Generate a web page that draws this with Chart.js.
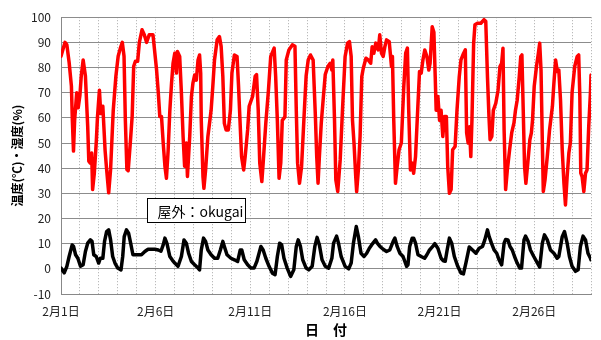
<!DOCTYPE html>
<html>
<head>
<meta charset="utf-8">
<script src="https://cdn.jsdelivr.net/npm/chart.js@4/dist/chart.umd.min.js"></script>
<style>
  html, body { margin: 0; padding: 0; background: #fff; }
  #wrap { width: 601px; height: 340px; }
</style>
</head>
<body>
<div id="wrap"><canvas id="chartOkugai"></canvas></div>
<script>
// 屋外 温湿度 (2月) — days since 2月1日 0時

// 湿度 (%)
const humDay = [0.00,0.21,0.31,0.43,0.55,0.60,0.66,0.72,0.83,0.91,1.00,1.07,1.17,1.29,1.41,1.47,1.55,1.62,1.67,1.76,1.86,1.93,2.03,2.10,2.21,2.33,2.41,2.52,2.62,2.76,2.90,3.02,3.14,3.24,3.33,3.40,3.48,3.55,3.66,3.76,3.84,3.93,4.05,4.14,4.28,4.40,4.52,4.66,4.86,5.05,5.14,5.22,5.31,5.40,5.49,5.57,5.66,5.75,5.84,5.92,6.01,6.10,6.15,6.27,6.36,6.45,6.53,6.62,6.68,6.80,6.89,6.97,7.06,7.15,7.24,7.32,7.38,7.41,7.50,7.55,7.64,7.76,7.93,8.02,8.11,8.25,8.37,8.46,8.55,8.63,8.72,8.84,8.95,9.03,9.16,9.30,9.38,9.47,9.54,9.65,9.73,9.86,9.94,10.12,10.26,10.33,10.42,10.50,10.61,10.68,10.82,10.96,11.08,11.26,11.34,11.43,11.52,11.61,11.69,11.83,11.90,12.04,12.22,12.36,12.43,12.50,12.60,12.71,12.83,12.95,13.06,13.18,13.32,13.44,13.51,13.58,13.65,13.75,13.88,13.96,14.10,14.22,14.31,14.36,14.45,14.52,14.62,14.75,14.87,15.01,15.14,15.24,15.33,15.40,15.48,15.57,15.62,15.71,15.80,15.89,15.97,16.11,16.23,16.36,16.44,16.53,16.63,16.76,16.84,16.93,17.02,17.11,17.20,17.34,17.46,17.51,17.58,17.67,17.76,17.86,17.98,18.11,18.21,18.30,18.37,18.46,18.56,18.63,18.73,18.86,18.94,19.03,19.12,19.22,19.33,19.43,19.50,19.61,19.70,19.77,19.82,19.91,20.00,20.08,20.17,20.26,20.36,20.43,20.52,20.61,20.69,20.82,20.92,21.04,21.13,21.27,21.36,21.43,21.51,21.58,21.65,21.71,21.80,21.87,22.00,22.18,22.35,22.44,22.53,22.61,22.67,22.76,22.84,22.97,23.09,23.19,23.28,23.35,23.41,23.49,23.58,23.70,23.81,23.93,24.01,24.10,24.21,24.29,24.35,24.42,24.49,24.56,24.66,24.77,24.85,24.91,25.00,25.12,25.22,25.29,25.36,25.43,25.48,25.57,25.69,25.81,25.96,26.04,26.13,26.22,26.30,26.39,26.48,26.57,26.65,26.74,26.83,26.91,27.00,27.14,27.27,27.35,27.41,27.46,27.53,27.62,27.71,27.79,27.88,27.97,28.00];
const hum = [84.5,90,89,82,72.6,59,46.8,59,70,64,69,76.6,83,76.6,56.7,42.8,42,46,31.5,38,50,60.7,71,61.7,64.6,47,39.5,30.2,39.5,63,76.6,84.5,87.8,90,84.5,59,39.5,39,50,60.7,80.5,82.5,82.5,90,95,93,90,93,93,79,70,60.5,60.5,50,40.8,36,47,63,73.8,81.7,85.7,77.8,86.4,84.4,70,52.6,40.8,50,36.7,52.6,68.5,73.8,77,75,83,85,77.8,59,36.7,32,39.3,52.6,63,72.5,83,91,92.3,88.4,76.4,57.8,55.2,55.2,63,77.8,85,84.4,72.5,56.5,44.6,39.3,44.6,55.2,64.6,68.5,76.6,77.2,63,42,34.7,42,57.9,71,84.4,87.7,76.6,59,36,42,59,60.4,83,87,89,88.4,63,42,34,40.7,59,76.6,83,85,83,60.5,44.6,34,44.6,57.9,70,77.2,80.4,81.7,79,83,59,35.3,30.7,43.3,63,84.4,89.7,90.3,84.4,59,50,36.7,30.7,39.3,52.6,76.4,79.7,83.7,83,81.7,88.3,85.7,89.7,87,93,85.7,84.4,88.3,91,90.3,80.4,84.4,59,34,40.7,47.3,50,72.5,85.7,87.7,63,39.3,42,38,44.6,65.8,78.4,77.8,83,87,84.4,79,81.7,96.2,94,76.4,63,68.5,59,63,52.6,60.5,60.5,40.7,30,31.5,47.3,48.6,63,76.4,83,85.7,87,54,50,56.5,44.6,59,89.7,97,97.6,97.6,99,98.4,76.4,60.5,51.3,52.6,63,65.8,71,80.4,81.7,87.7,55.2,31.5,39.3,47.3,54,58,63,67,76.4,84.4,85,63,40.7,34,42,51.3,54,59,72.5,80.4,85.7,89.7,79,50,30.7,35.3,44.6,55.2,64.5,73.8,83,78.4,79,67,47.3,34,25.4,36.7,46,50,70,80.4,84.4,85,68.5,38,36.7,30.7,38,39.3,56.5,70,77];

// 温度 (℃)
const tmpDay = [0.00,0.17,0.31,0.43,0.59,0.66,0.77,0.89,1.03,1.17,1.29,1.41,1.55,1.64,1.73,1.86,1.99,2.08,2.21,2.30,2.41,2.52,2.62,2.73,2.85,3.00,3.17,3.26,3.34,3.46,3.57,3.68,3.80,3.93,4.08,4.25,4.43,4.60,4.77,4.96,5.14,5.28,5.40,5.49,5.60,5.75,5.88,6.01,6.18,6.36,6.50,6.62,6.74,6.89,7.06,7.24,7.32,7.41,7.53,7.64,7.76,7.93,8.11,8.28,8.42,8.55,8.63,8.77,8.98,9.16,9.33,9.47,9.55,9.68,9.86,10.03,10.20,10.35,10.56,10.68,10.82,10.99,11.17,11.31,11.43,11.55,11.66,11.78,11.95,12.13,12.30,12.43,12.53,12.65,12.77,12.95,13.09,13.27,13.41,13.53,13.65,13.79,13.96,14.14,14.31,14.40,14.56,14.66,14.80,15.01,15.20,15.33,15.45,15.60,15.71,15.85,16.01,16.15,16.29,16.41,16.62,16.71,16.85,17.02,17.20,17.37,17.55,17.64,17.76,17.90,18.07,18.26,18.33,18.42,18.55,18.63,18.73,18.86,19.03,19.21,19.33,19.47,19.64,19.75,19.91,20.08,20.20,20.30,20.40,20.52,20.64,20.78,20.96,21.13,21.26,21.39,21.57,21.74,21.92,22.09,22.27,22.39,22.53,22.62,22.74,22.88,23.02,23.14,23.28,23.41,23.49,23.61,23.72,23.84,23.96,24.10,24.24,24.33,24.46,24.54,24.68,24.80,24.97,25.17,25.29,25.43,25.54,25.69,25.86,26.04,26.21,26.30,26.48,26.60,26.74,26.86,27.00,27.18,27.32,27.44,27.58,27.71,27.84,27.97,28.00];
const tmp = [0.3,-1.6,1,4.9,9.5,9,5.6,4.2,1,1.6,6.9,10.2,11.5,10.9,5.6,4.9,2.3,4.2,4.2,10.9,14.8,15.5,11.5,4.9,2.3,0.3,-0.4,4.9,12.8,15.5,14.2,10.2,5.6,5.6,5.6,5.6,6.9,7.8,7.8,7.8,7.5,7,9.5,12.2,10,4.9,3.5,2.3,1,4.9,11.5,10.2,6.2,2.9,1.6,0.3,-0.4,7.5,12.2,10.9,7.5,5.6,4.2,4.2,7.5,10.9,8.9,5.6,4.2,3.6,2.9,7.5,7.5,3.6,1.6,0.3,0.3,3,8.9,7.5,4.2,1,-1.7,-2.3,4.9,10.2,9.5,4.2,0.3,-3,-0.4,8.9,11.5,8.9,3.6,0.3,-0.4,1,8.9,12.5,9.5,3.6,1,0.3,4.2,10.2,13,10.2,4.9,1,0,2.3,10.2,16.8,12.8,6.2,4.9,6.2,8.2,9.5,11.5,10.2,8.9,7.8,6.9,7.5,10.9,12.2,8.9,6.2,4.9,1,1.6,8.9,12.2,12.2,10.2,5.6,4.9,4.2,5.6,7.5,8.9,10,8.2,4.2,3.2,3,7.5,12.2,10.2,4.9,1,-1.7,-2,2.3,8.7,7.5,6.2,8.2,8.9,11.5,15.5,12.8,10.2,7.5,6.2,3.6,1.6,10.2,11.7,11.5,8.9,7.5,4.9,2.3,0.3,0.3,11.5,13,10.9,7.5,5,2.3,0.7,10.2,13.5,11.5,7.5,6.2,4.2,4.9,12.8,14.8,10.2,4.9,1,-1,-0.4,8.9,13,11.5,6.2,4.2,3.6];

// 目盛
const yTicks = [-10, 0, 10, 20, 30, 40, 50, 60, 70, 80, 90, 100];
const dayLabelEvery = 5;
const boxText = "屋外：okugai";
const boxAt = [4.55, 28.3, 9.72, 18.5]; // 左, 上, 右, 下 (軸の値)

const jpFont = '"Noto Sans CJK JP", "Noto Sans", sans-serif';

// ラベル枠
const labelBox = {
  id: "labelBox",
  afterDatasetsDraw(chart) {
    const { ctx, scales: { x, y } } = chart;
    const l = Math.round(x.getPixelForValue(boxAt[0])) + 0.5;
    const t = Math.round(y.getPixelForValue(boxAt[1])) + 0.5;
    const r = Math.round(x.getPixelForValue(boxAt[2])) + 0.5;
    const b = Math.round(y.getPixelForValue(boxAt[3])) + 0.5;
    ctx.save();
    ctx.fillStyle = "#fff";
    ctx.fillRect(l, t, r - l, b - t);
    ctx.strokeStyle = "#000";
    ctx.lineWidth = 1;
    ctx.strokeRect(l, t, r - l, b - t);
    ctx.fillStyle = "#000";
    ctx.font = "14px " + jpFont;
    ctx.textBaseline = "middle";
    ctx.fillText(boxText, l + 10, (t + b) / 2 + 1);
    ctx.restore();
  }
};

const ctx = document.getElementById("chartOkugai");
new Chart(ctx, {
  type: "line",
  data: {
    datasets: [
      {
        label: "湿度",
        data: humDay.map((d, i) => ({ x: d, y: hum[i] })),
        borderColor: "#ff0000",
        borderWidth: 3.5,
        borderJoinStyle: "round",
        borderCapStyle: "round",
        pointRadius: 0,
        tension: 0
      },
      {
        label: "温度",
        data: tmpDay.map((d, i) => ({ x: d, y: tmp[i] })),
        borderColor: "#000000",
        borderWidth: 3.5,
        borderJoinStyle: "round",
        borderCapStyle: "round",
        pointRadius: 0,
        tension: 0
      }
    ]
  },
  options: {
    responsive: true,
    maintainAspectRatio: false,
    animation: false,
    layout: { padding: { top: 16, right: 4, bottom: 0, left: 0 } },
    plugins: { legend: { display: false }, tooltip: { enabled: false } },
    scales: {
      x: {
        type: "linear",
        min: 0,
        max: 28,
        afterFit: (s) => { s.height = 46; },
        afterBuildTicks: (s) => {
          s.ticks = Array.from({ length: 29 }, (_, i) => ({ value: i }));
        },
        grid: { color: "#aaaaaa", lineWidth: 1, drawTicks: false },
        border: { color: "#888888", dash: [1, 2] },
        ticks: {
          autoSkip: false,
          maxRotation: 0,
          padding: 10,
          color: "#222",
          font: { family: jpFont, size: 12 },
          callback: (v) => (v % dayLabelEvery === 0 && v < 28 ? `2月${v + 1}日` : "")
        },
        title: {
          display: true,
          text: "日　付",
          color: "#000",
          font: { family: jpFont, size: 14, weight: "bold" },
          padding: { top: 0, bottom: 2 }
        }
      },
      y: {
        min: -10,
        max: 100,
        afterFit: (s) => { s.width = 61; },
        afterBuildTicks: (s) => { s.ticks = yTicks.map((v) => ({ value: v })); },
        grid: { color: "#8c8c8c", lineWidth: 1, drawTicks: false },
        border: { color: "#888888" },
        ticks: {
          padding: 10,
          color: "#222",
          font: { family: jpFont, size: 12 }
        },
        title: {
          display: true,
          text: "温度(℃)・湿度(%)",
          color: "#000",
          font: { family: jpFont, size: 12, weight: "bold" },
          padding: { top: 10 }
        }
      }
    }
  },
  plugins: [labelBox]
});
</script>
</body>
</html>
